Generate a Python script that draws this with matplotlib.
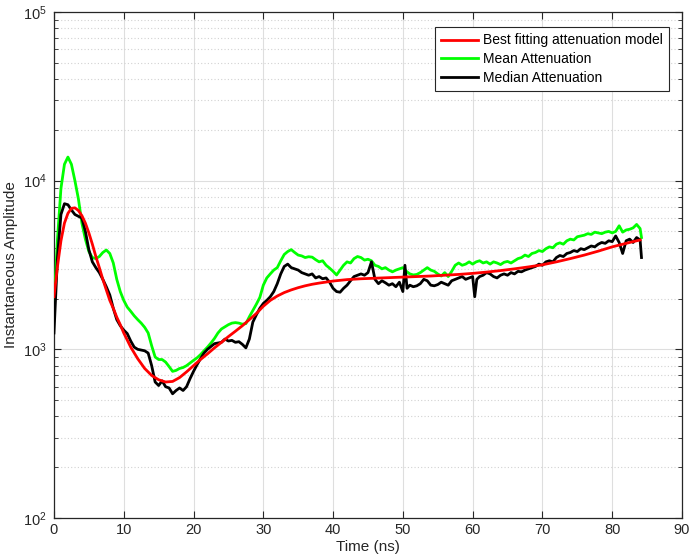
import numpy as np
import matplotlib
matplotlib.use("Agg")
import matplotlib.pyplot as plt
from matplotlib.ticker import LogLocator, FixedLocator, NullFormatter

# ---- data ----
t_mean = [0, 0.5, 1.0, 1.5, 2.0, 2.5, 3.0, 3.5, 4.0, 4.5, 5.0, 5.5, 6.0, 6.5, 7.0, 7.5, 8.0, 8.5, 9.0, 9.5,
          10.0, 10.5, 11, 11.5, 12, 12.5, 13, 13.5, 14, 14.5, 15, 15.5, 16, 16.5, 17, 17.5, 18, 18.5, 19, 19.5,
          20, 20.5, 21, 21.5, 22, 22.5, 23, 23.5, 24, 24.5, 25, 25.5, 26, 26.5, 27, 27.5, 28, 28.5, 29, 29.5,
          30, 30.5, 31, 31.5, 32, 32.5, 33, 33.5, 34, 34.5, 35, 35.5, 36, 36.5, 37, 37.5, 38, 38.5, 39, 39.5,
          40, 40.5, 41, 41.5, 42, 42.5, 43, 43.5, 44, 44.5, 45, 45.5, 46, 46.5, 47, 47.5, 48, 48.5, 49, 49.5,
          50, 50.5, 51, 51.5, 52, 52.5, 53, 53.5, 54, 54.5, 55, 55.5, 56, 56.5, 57, 57.5, 58, 58.5, 59, 59.5,
          60, 60.5, 61, 61.5, 62, 62.5, 63, 63.5, 64, 64.5, 65, 65.5, 66, 66.5, 67, 67.5, 68, 68.5, 69, 69.5,
          70, 70.5, 71, 71.5, 72, 72.5, 73, 73.5, 74, 74.5, 75, 75.5, 76, 76.5, 77, 77.5, 78, 78.5, 79, 79.5,
          80, 80.5, 81, 81.5, 82, 82.5, 83, 83.5, 84, 84.2]
mean_att = [1800, 4500, 9000, 12500, 13800, 12500, 10000, 7800, 5600, 4500, 3800, 3500, 3450, 3550, 3750, 3880, 3700, 3250, 2600, 2200,
            1950, 1780, 1680, 1580, 1500, 1430, 1350, 1250, 1050, 900, 870, 870, 840, 790, 740, 750, 770, 780, 800, 830,
            860, 890, 930, 980, 1030, 1090, 1160, 1250, 1320, 1360, 1400, 1430, 1440, 1430, 1410, 1420, 1560, 1700, 1850, 2030,
            2400, 2650, 2800, 2950, 3050, 3350, 3650, 3800, 3900, 3750, 3620, 3580, 3500, 3540, 3520, 3400, 3300, 3350, 3150, 3030,
            2900, 2760, 2950, 3150, 3300, 3250, 3450, 3550, 3500, 3380, 3420, 3350, 3150, 3100, 3000, 3050, 2950, 2880, 2950, 3000,
            3050, 2900, 2800, 2760, 2780, 2850, 2950, 3050, 2950, 2900, 2800, 2720, 2850, 2700, 2900, 3150, 3250, 3150, 3200, 3300,
            3200, 3300, 3350, 3250, 3300, 3200, 3300, 3250, 3180, 3280, 3320, 3250, 3350, 3450, 3500, 3620, 3550, 3700, 3750, 3850,
            3800, 3950, 4050, 4000, 4200, 4280, 4200, 4400, 4500, 4450, 4650, 4700, 4750, 4850, 4800, 4950, 4900, 4850, 4950, 5000,
            4900, 5000, 5400, 4950, 5100, 5150, 5250, 5500, 5200, 4600]

t_median = [0, 0.5, 1.0, 1.5, 2.0, 2.5, 3.0, 3.5, 4.0, 4.5, 5.0, 5.5, 6.0, 6.5, 7.0, 7.5, 8.0, 8.5, 9.0, 9.5,
            10.0, 10.5, 11, 11.5, 12, 12.5, 13, 13.5, 14, 14.5, 15, 15.5, 16, 16.5, 17, 17.5, 18, 18.5, 19, 19.5,
            20, 20.5, 21, 21.5, 22, 22.5, 23, 23.5, 24, 24.5, 25, 25.5, 26, 26.5, 27, 27.5, 28, 28.5, 29, 29.5,
            30, 30.5, 31, 31.5, 32, 32.5, 33, 33.5, 34, 34.5, 35, 35.5, 36, 36.5, 37, 37.5, 38, 38.5, 39, 39.5,
            40, 40.5, 41, 41.5, 42, 42.5, 43, 43.5, 44, 44.5, 45, 45.5, 46, 46.5, 47, 47.5, 48, 48.5, 49, 49.5,
            50, 50.3, 50.6, 51, 51.5, 52, 52.5, 53, 53.5, 54, 54.5, 55, 55.5, 56, 56.5, 57, 57.5, 58, 58.5, 59, 59.5,
            60, 60.3, 60.6, 61, 61.5, 62, 62.5, 63, 63.5, 64, 64.5, 65, 65.5, 66, 66.5, 67, 67.5, 68, 68.5, 69, 69.5,
            70, 70.5, 71, 71.5, 72, 72.5, 73, 73.5, 74, 74.5, 75, 75.5, 76, 76.5, 77, 77.5, 78, 78.5, 79, 79.5,
            80, 80.5, 81, 81.5, 82, 82.5, 83, 83.5, 84, 84.2]
median_att = [1250, 3500, 6300, 7300, 7200, 6700, 6300, 6150, 6000, 5000, 3900, 3300, 3050, 2850, 2600, 2350, 2100, 1750, 1500, 1380,
              1300, 1240, 1120, 1030, 1000, 990, 980, 950, 800, 640, 610, 650, 600, 590, 545, 570, 590, 570, 600, 670,
              740, 810, 880, 950, 1000, 1040, 1080, 1090, 1100, 1150, 1120, 1130, 1100, 1110, 1070, 1020, 1150, 1450, 1600, 1750,
              1870, 1950, 2050, 2200, 2450, 2800, 3100, 3200, 3050, 3000, 2950, 2850, 2800, 2750, 2800, 2650, 2700, 2620, 2650, 2500,
              2300, 2200, 2180, 2300, 2400, 2550, 2700, 2750, 2800, 2750, 2850, 3300, 2600, 2450, 2550, 2480, 2400, 2450, 2350, 2500,
              2200, 3150, 2300, 2400, 2350, 2380, 2450, 2600, 2550, 2400, 2380, 2420, 2500, 2450, 2400, 2550, 2600, 2650, 2700, 2600, 2650,
              2700, 2050, 2600, 2700, 2750, 2850, 2800, 2700, 2650, 2750, 2800, 2750, 2850, 2800, 2900, 2880, 2950, 3000, 3050, 3100, 3200,
              3150, 3300, 3350, 3300, 3500, 3600, 3550, 3700, 3750, 3850, 3800, 3950, 3900, 4000, 4100, 4050, 4200, 4300, 4250, 4400,
              4350, 4700, 4300, 3700, 4400, 4500, 4300, 4600, 4450, 3500]

t_fit = [0, 0.5, 1, 1.5, 2, 2.5, 3, 3.5, 4, 4.5, 5, 5.5, 6, 6.5, 7, 7.5, 8, 8.5, 9, 9.5, 10, 11, 12, 13, 14, 15,
         16, 17, 18, 19, 20, 21, 22, 23, 24, 25, 26, 27, 28, 29, 30, 31, 32, 33, 34, 35, 36, 37, 38, 40, 42, 44,
         46, 48, 50, 52, 54, 56, 58, 60, 62, 64, 66, 68, 70, 72, 74, 76, 78, 80, 82, 84]
fit_att = [2050, 3100, 4400, 5600, 6400, 6850, 6900, 6650, 6200, 5600, 4900, 4200, 3550, 3050, 2600, 2250, 1950, 1750, 1550, 1400, 1250, 1030, 880, 770, 700, 660,
           640, 645, 680, 735, 800, 870, 940, 1020, 1100, 1190, 1280, 1380, 1500, 1630, 1800, 1950, 2070, 2170, 2250, 2320, 2380, 2430, 2470, 2540, 2590, 2620,
           2640, 2660, 2680, 2700, 2720, 2750, 2780, 2820, 2870, 2930, 3000, 3080, 3170, 3300, 3450, 3620, 3820, 4050, 4250, 4450]

x_ticks = [0, 10, 20, 30, 40, 50, 60, 70, 80, 90]

plt.rcParams['font.family'] = ['Liberation Sans', 'DejaVu Sans']
plt.rcParams['mathtext.fontset'] = 'custom'
plt.rcParams['mathtext.rm'] = 'Liberation Sans'

fig = plt.figure(figsize=(6.92, 5.55), dpi=100)
ax = fig.add_axes([0.078, 0.0667, 0.9075, 0.9117])

ax.plot(t_mean, mean_att, color='#00ff00', lw=2, zorder=3)
ax.plot(t_median, median_att, color='black', lw=2, zorder=4)
ax.plot(t_fit, fit_att, color='#ff0000', lw=2, zorder=5)

ax.set_yscale('log')
ax.set_xlim(0, 90)
ax.set_ylim(1e2, 1e5)
ax.xaxis.set_major_locator(FixedLocator(x_ticks))
ax.yaxis.set_major_locator(LogLocator(base=10, numticks=10))
ax.yaxis.set_minor_locator(LogLocator(base=10, subs=np.arange(2, 10), numticks=10))
ax.yaxis.set_minor_formatter(NullFormatter())

ax.grid(True, which='major', color='#dedede', lw=0.8, ls='-')
ax.grid(True, which='minor', axis='y', color='#d2d2d2', lw=0.8, ls=(0, (1, 2)))
ax.set_axisbelow(True)

for s in ax.spines.values():
    s.set_color('#262626')
    s.set_linewidth(0.9)
ax.tick_params(which='both', direction='in', top=True, right=True, color='#262626',
               labelcolor='#262626', labelsize=10.5)
ax.tick_params(which='major', length=5)
ax.tick_params(which='minor', length=3)
ax.tick_params(axis='y', pad=5)

ax.set_xlabel('Time (ns)', fontsize=11, color='#262626', labelpad=2)
ax.set_ylabel('Instantaneous Amplitude', fontsize=11, color='#262626', labelpad=4)

h = ax.get_lines()
leg = ax.legend([h[2], h[0], h[1]],
                ['Best fitting attenuation model', 'Mean Attenuation', 'Median Attenuation'],
                loc='upper right', bbox_to_anchor=(0.979, 0.970), fontsize=10,
                fancybox=False, framealpha=1, edgecolor='#262626',
                handlelength=2.7, handletextpad=0.3, borderpad=0.45, labelspacing=0.35,
                borderaxespad=0)
leg.get_frame().set_linewidth(0.8)

fig.savefig('out.png', dpi=100)
